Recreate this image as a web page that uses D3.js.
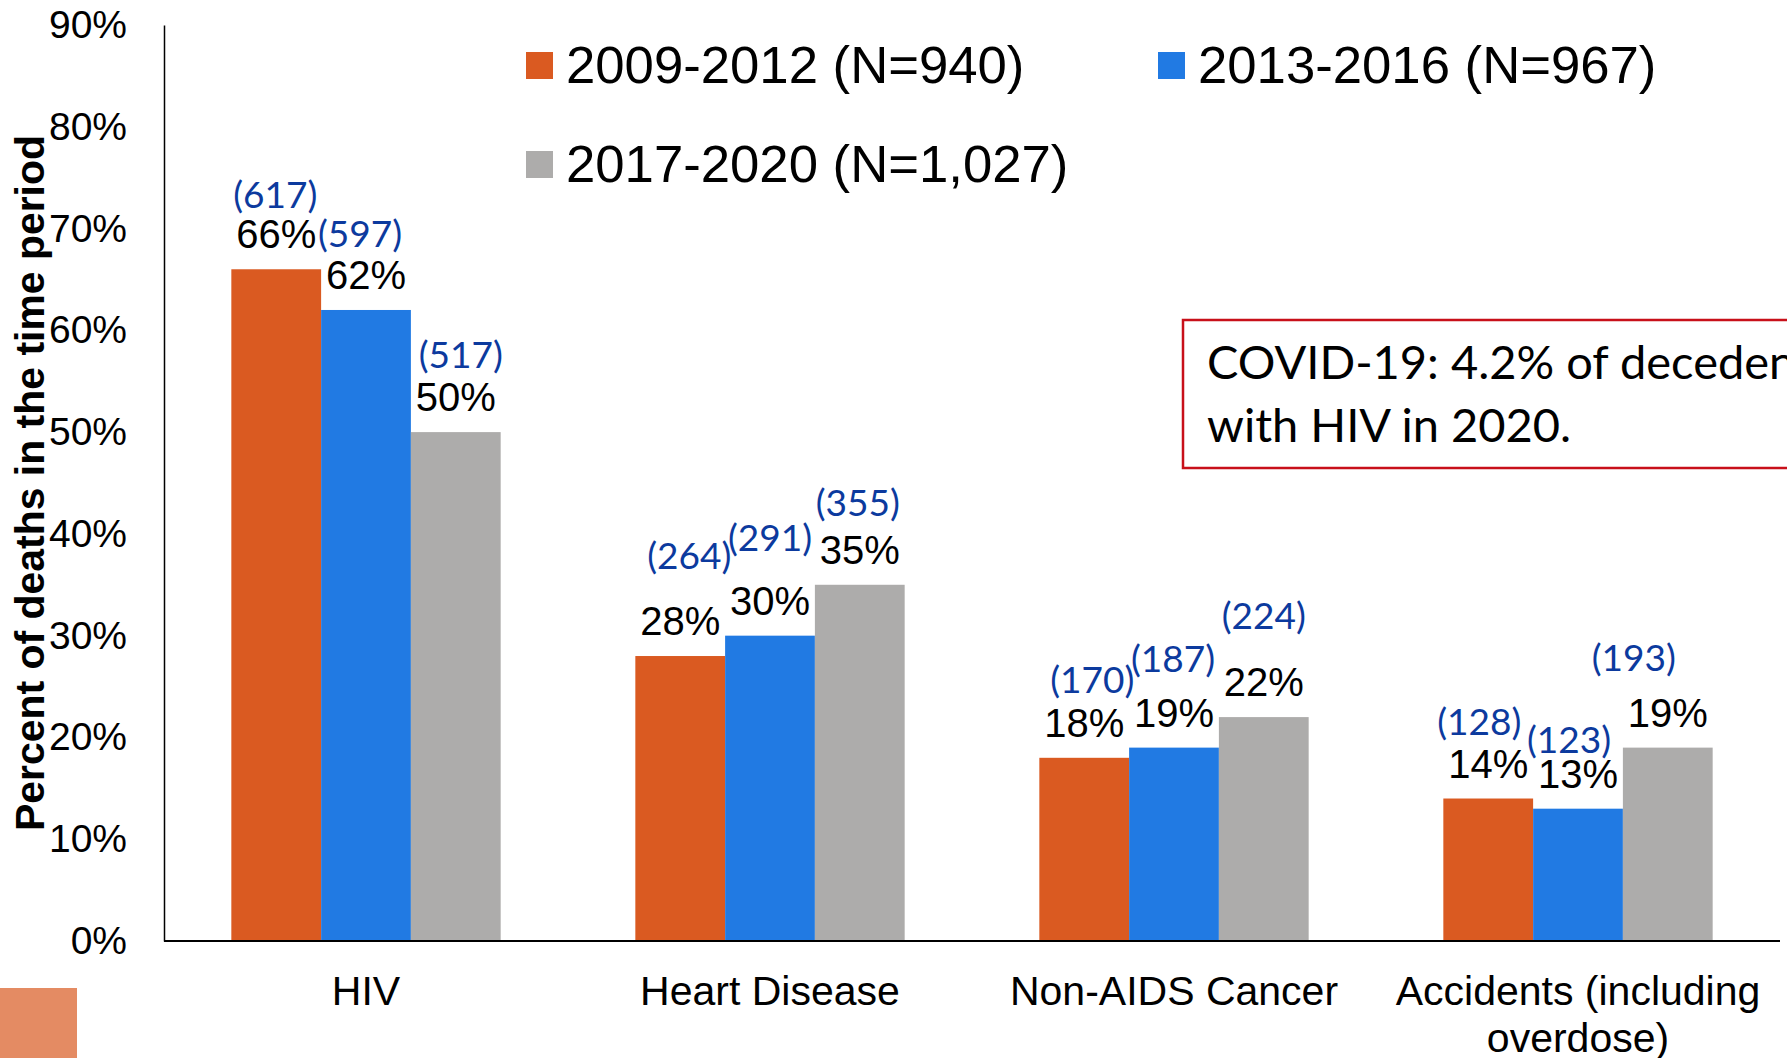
<!DOCTYPE html>
<html>
<head>
<meta charset="utf-8">
<title>Causes of death by period</title>
<script src="https://d3js.org/d3.v7.min.js"></script>
<style>
	body { margin: 0; background: #fff; }
	svg  { display: block; }
</style>
</head>
<body>

<script type="text/javascript">
	var screenWidth  = 1787;
	var screenHeight = 1058;

	// ---- data ----
	var categories = ["HIV", "Heart Disease", "Non-AIDS Cancer", "Accidents (including overdose)"];
	var periods    = ["2009-2012 (N=940)", "2013-2016 (N=967)", "2017-2020 (N=1,027)"];

	// percent of deaths in the period
	var pct2009 = [66, 28, 18, 14];
	var pct2013 = [62, 30, 19, 13];
	var pct2017 = [50, 35, 22, 19];

	// number of deaths
	var count2009 = [617, 264, 170, 128];
	var count2013 = [597, 291, 187, 123];
	var count2017 = [517, 355, 224, 193];

	var yTicks = [0, 10, 20, 30, 40, 50, 60, 70, 80, 90];

	var noteLines = ["COVID-19: 4.2% of decedents", "with HIV in 2020."];

	// ---- look ----
	var colours    = ["#DA5A21", "#217AE3", "#ADACAB"];
	var countColour = "#0C3A9E";
	var arial   = "'Liberation Sans', Arial, sans-serif";
	var calibri = "Lato, Carlito, Calibri, sans-serif";

	// the count labels were dragged by hand in the original, these are the nudges (px) from the % label
	var countNudge = [
		[[-1, -39], [9, -65], [8, -43], [-9, -42]],
		[[-6, -41], [0, -63], [-1, -54], [-9, -34]],
		[[5, -42], [-2, -47], [0, -66], [-34, -55]]
	];

	var series = [
		{ name: periods[0], pct: pct2009, n: count2009 },
		{ name: periods[1], pct: pct2013, n: count2013 },
		{ name: periods[2], pct: pct2017, n: count2017 }
	];

	var plotLeft = 164, plotRight = 1780, plotTop = 25, plotBottom = 941;

	var svg = d3.select("body").append("svg")
		.attr("width", screenWidth)
		.attr("height", screenHeight);

	svg.append("rect").attr("width", screenWidth).attr("height", screenHeight).attr("fill", "#fff");

	var xScale = d3.scaleBand()
		.domain(categories)
		.range([plotLeft, plotRight])
		.paddingInner(1 / 3)
		.paddingOuter(1 / 6);

	var xInner = d3.scaleBand()
		.domain(d3.range(series.length))
		.range([0, xScale.bandwidth()]);

	var yScale = d3.scaleLinear()
		.domain([0, 90])
		.range([plotBottom, plotTop]);

	// y axis
	var yAxis = d3.axisLeft(yScale)
		.tickValues(yTicks)
		.tickFormat(d => d + "%")
		.tickSizeInner(0)
		.tickSizeOuter(0)
		.tickPadding(37);

	var gy = svg.append("g")
		.attr("transform", "translate(" + plotLeft + ",0)")
		.call(yAxis);
	gy.select(".domain").attr("stroke", "#000").attr("stroke-width", 1.5);
	gy.selectAll("text")
		.attr("font-family", arial)
		.attr("font-size", 39)
		.attr("fill", "#000");

	// y title
	svg.append("text")
		.attr("transform", "translate(44," + (plotTop + plotBottom) / 2 + ") rotate(-90)")
		.attr("text-anchor", "middle")
		.attr("font-family", arial)
		.attr("font-weight", "bold")
		.attr("font-size", 41)
		.attr("textLength", 696)
		.attr("lengthAdjust", "spacingAndGlyphs")
		.text("Percent of deaths in the time period");

	// bars
	function rowsFor(ci) {
		return series.map((s, si) => ({ si: si, ci: ci, v: s.pct[ci], n: s.n[ci] }));
	}

	var groups = svg.selectAll("g.cat")
		.data(categories)
		.enter().append("g")
		.attr("class", "cat")
		.attr("transform", d => "translate(" + xScale(d) + ",0)");

	groups.selectAll("rect")
		.data((d, ci) => rowsFor(ci))
		.enter().append("rect")
		.attr("x", d => xInner(d.si))
		.attr("width", xInner.bandwidth())
		.attr("y", d => yScale(d.v))
		.attr("height", d => plotBottom - yScale(d.v))
		.attr("fill", d => colours[d.si]);

	// percent labels
	groups.selectAll("text.pct")
		.data((d, ci) => rowsFor(ci))
		.enter().append("text")
		.attr("class", "pct")
		.attr("x", d => xInner(d.si) + xInner.bandwidth() / 2)
		.attr("y", d => yScale(d.v) - 21)
		.attr("text-anchor", "middle")
		.attr("font-family", arial)
		.attr("font-size", 40)
		.attr("fill", "#000")
		.text(d => d.v + "%");

	// count labels
	groups.selectAll("text.cnt")
		.data((d, ci) => rowsFor(ci))
		.enter().append("text")
		.attr("class", "cnt")
		.attr("x", d => xInner(d.si) + xInner.bandwidth() / 2 + countNudge[d.si][d.ci][0])
		.attr("y", d => yScale(d.v) - 35 + countNudge[d.si][d.ci][1] + 13)
		.attr("text-anchor", "middle")
		.attr("font-family", calibri)
		.attr("font-size", 37)
		.attr("fill", countColour)
		.text(d => "(" + d.n + ")");

	// baseline
	svg.append("line")
		.attr("x1", plotLeft).attr("x2", plotRight)
		.attr("y1", plotBottom).attr("y2", plotBottom)
		.attr("stroke", "#000").attr("stroke-width", 2);

	// category labels, wrapped to the band step
	var xLabels = svg.selectAll("text.xlab")
		.data(categories)
		.enter().append("text")
		.attr("class", "xlab")
		.attr("text-anchor", "middle")
		.attr("font-family", arial)
		.attr("font-size", 41)
		.attr("fill", "#000")
		.attr("x", d => xScale(d) + xScale.bandwidth() / 2)
		.attr("y", 1005);

	xLabels.each(function(d) {
		wrap(d3.select(this), d, xScale.step(), 47);
	});

	function wrap(textSel, str, width, lineHeight) {
		var words = str.split(" ");
		var line = [];
		var x = textSel.attr("x");
		var tspan = textSel.append("tspan").attr("x", x).attr("dy", 0);
		words.forEach(function(w) {
			line.push(w);
			tspan.text(line.join(" "));
			if (tspan.node().getComputedTextLength() > width && line.length > 1) {
				line.pop();
				tspan.text(line.join(" "));
				line = [w];
				tspan = textSel.append("tspan").attr("x", x).attr("dy", lineHeight).text(w);
			}
		});
	}

	// legend
	var legend = svg.selectAll("g.leg")
		.data(series)
		.enter().append("g")
		.attr("class", "leg")
		.attr("transform", (d, i) => "translate(" + (526 + (i % 2) * 632) + "," + (52 + Math.floor(i / 2) * 99) + ")");

	legend.append("rect")
		.attr("width", 27).attr("height", 27)
		.attr("fill", (d, i) => colours[i]);

	legend.append("text")
		.attr("x", 40)
		.attr("y", 31)
		.attr("font-family", arial)
		.attr("font-size", 52.7)
		.attr("fill", "#000")
		.text(d => d.name);

	// COVID note box (runs off the right edge like the original)
	var note = svg.append("g").attr("transform", "translate(1183,320)");
	note.append("rect")
		.attr("width", 700).attr("height", 148)
		.attr("fill", "#fff")
		.attr("stroke", "#C8101A").attr("stroke-width", 2.5);
	note.selectAll("text")
		.data(noteLines)
		.enter().append("text")
		.attr("x", 24)
		.attr("y", (d, i) => 59 + i * 63)
		.attr("font-family", calibri)
		.attr("font-size", 47)
		.attr("fill", "#000")
		.text(d => d);

	// slide decoration, bottom left
	svg.append("rect")
		.attr("x", 0).attr("y", 988)
		.attr("width", 77).attr("height", 70)
		.attr("fill", "#E48B63");
</script>
</body>
</html>
